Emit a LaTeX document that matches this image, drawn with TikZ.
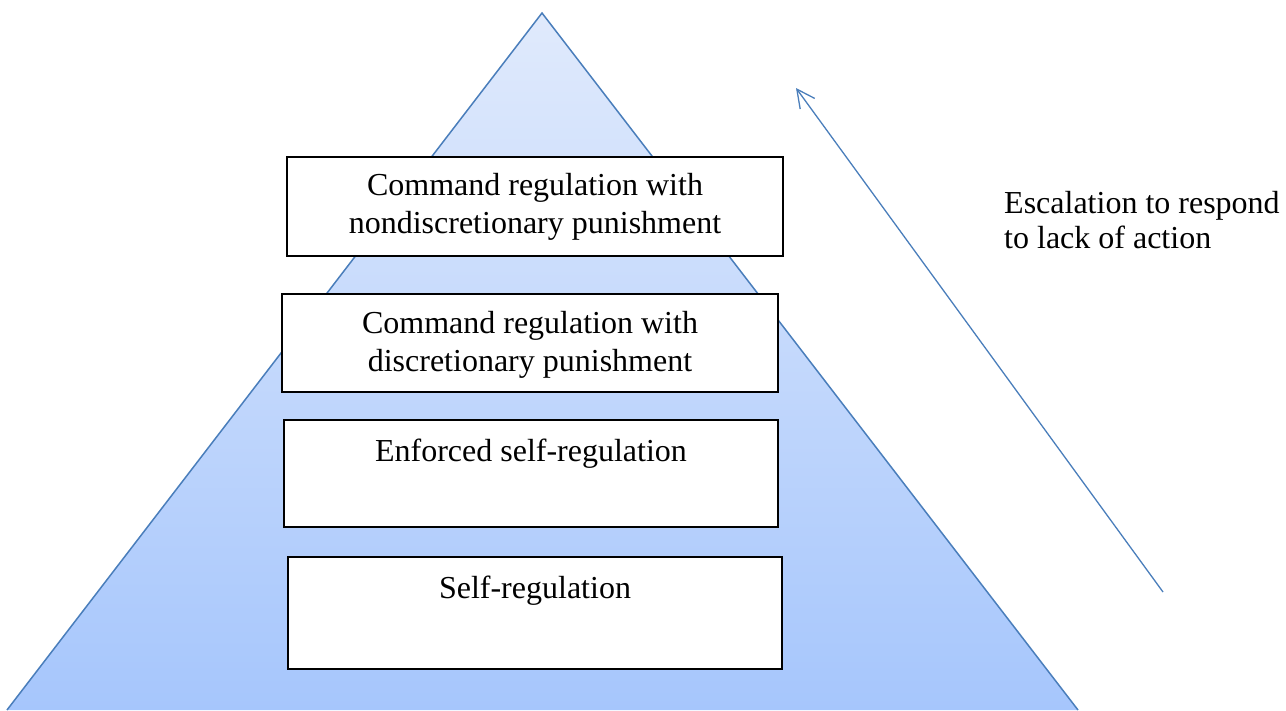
\documentclass[tikz,border=0pt]{standalone}
\usepackage{fontspec}
\setmainfont{Liberation Serif}
\usetikzlibrary{arrows.meta}

\definecolor{edgeblue}{RGB}{74,126,187}
\definecolor{pyrtop}{RGB}{224,234,252}
\definecolor{pyrbot}{RGB}{166,198,252}

\tikzset{
  pyredge/.style={draw=edgeblue, line width=1.5pt, line join=miter},
  tier/.style={draw=black, line width=1.4pt, fill=white, inner sep=0pt},
  tiertext/.style={anchor=base, inner sep=0pt, font=\fontsize{32}{37}\selectfont},
  sidetext/.style={anchor=base west, inner sep=0pt, font=\fontsize{32}{37}\selectfont},
  escalate/.style={draw=edgeblue, line width=1.3pt, -{Straight Barb[length=18pt,width=18pt]}},
}

\begin{document}
\begin{tikzpicture}[x=1pt,y=-1pt]
\useasboundingbox (0,0) rectangle (1286,710);
\clip (0,0) rectangle (1286,710);

% pyramid with vertical gradient
\coordinate (apex) at (542,13);
\coordinate (baseL) at (7,710);
\coordinate (baseR) at (1078,710);
\shade[top color=pyrtop, bottom color=pyrbot] (apex) -- (baseL) -- (baseR) -- cycle;
\draw[pyredge] (baseL) -- (apex) -- (baseR);

% tiers of the pyramid
\node[tier, minimum width=496pt, minimum height=99pt]  (b1) at (535,206.5) {};
\node[tier, minimum width=496pt, minimum height=98pt]  (b2) at (530,343) {};
\node[tier, minimum width=494pt, minimum height=107pt] (b3) at (531,473.5) {};
\node[tier, minimum width=494pt, minimum height=112pt] (b4) at (535,613) {};

\node[tiertext] (t1a) at (535,195) {Command regulation with};
\node[tiertext] (t1b) at (535,233) {nondiscretionary punishment};
\node[tiertext] (t2a) at (530,333) {Command regulation with};
\node[tiertext] (t2b) at (530,371) {discretionary punishment};
\node[tiertext] (t3)  at (531,461) {Enforced self-regulation};
\node[tiertext] (t4)  at (535,598) {Self-regulation};

% escalation arrow and its caption
\coordinate (tail) at (1163,592);
\coordinate (tip) at (796,88);
\draw[escalate] (tail) -- (tip);

\node[sidetext] (e1) at (1004,213) {Escalation to respond};
\node[sidetext] (e2) at (1004,248) {to lack of action};
\end{tikzpicture}
\end{document}
